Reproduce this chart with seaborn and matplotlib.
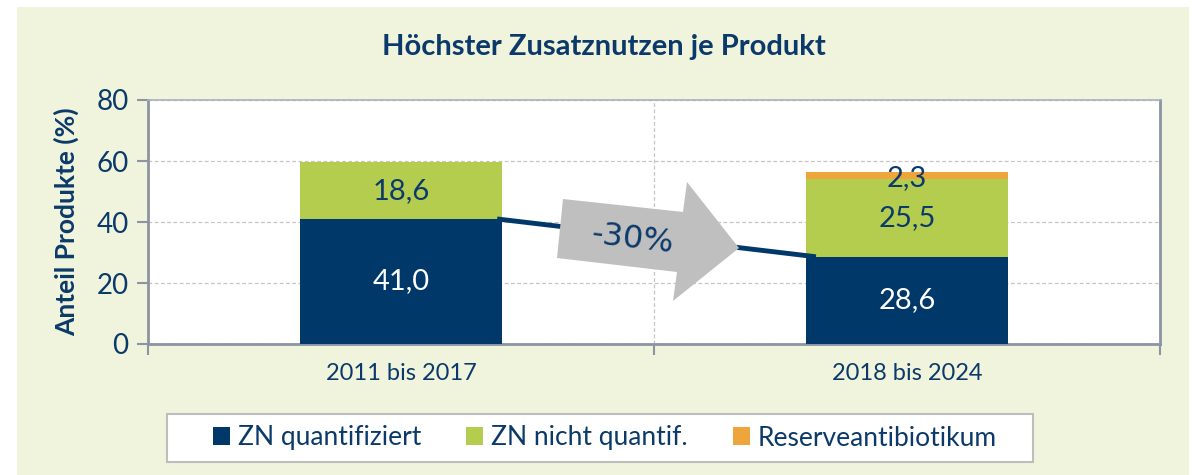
import matplotlib
matplotlib.use("Agg")
import matplotlib.pyplot as plt
import seaborn as sns
import pandas as pd
from matplotlib.patches import Rectangle, Polygon

# data
periods = ["2011 bis 2017", "2018 bis 2024"]
zn_quant = [41.0, 28.6]
zn_nicht = [18.6, 25.5]
reserve = [0.0, 2.3]
series_names = ["ZN quantifiziert", "ZN nicht quantif.", "Reserveantibiotikum"]
change_label = "-30%"

NAVY = "#00386a"
GREEN = "#b4cd4f"
ORANGE = "#eea53b"
BG = "#f0f4dc"
AXIS = "#8a94a3"
TEXT = "#0b3a6a"

sns.set_theme(style="white")
plt.rcParams["font.family"] = ["Lato", "DejaVu Sans"]

df = pd.DataFrame({"Zeitraum": periods, "quant": zn_quant,
                   "nicht": zn_nicht, "reserve": reserve})
df["b2"] = df["quant"] + df["nicht"]

W, H = 1201, 475
fig = plt.figure(figsize=(W / 100, H / 100), dpi=100)
fig.patch.set_facecolor("white")
fig.patches.append(Rectangle((17 / W, 0), (1189 - 17) / W, 1 - 7 / H,
                             transform=fig.transFigure, facecolor=BG,
                             edgecolor="none", zorder=-10))

ax = fig.add_axes([148 / W, 1 - 344 / H, (1160 - 148) / W, (344 - 100) / H])
ax.set_facecolor("white")

bw = 0.4
sns.barplot(data=df, x="Zeitraum", y="quant", color=NAVY, width=bw,
            saturation=1, ax=ax, zorder=3, label=series_names[0],
            linewidth=0)
sns.barplot(data=df, x="Zeitraum", y="nicht", color=GREEN, width=bw,
            saturation=1, ax=ax, bottom=df["quant"], zorder=3,
            label=series_names[1], linewidth=0)
sns.barplot(data=df, x="Zeitraum", y="reserve", color=ORANGE, width=bw,
            saturation=1, ax=ax, bottom=df["b2"], zorder=3,
            label=series_names[2], linewidth=0)

# value labels
for i in range(len(periods)):
    ax.text(i, zn_quant[i] / 2, f"{zn_quant[i]:.1f}".replace(".", ","),
            ha="center", va="center", color="white", fontsize=21, zorder=6)
    ax.text(i, zn_quant[i] + zn_nicht[i] / 2,
            f"{zn_nicht[i]:.1f}".replace(".", ","),
            ha="center", va="center", color=TEXT, fontsize=21, zorder=6)
    if reserve[i] > 0:
        ax.text(i, zn_quant[i] + zn_nicht[i] + reserve[i] / 2 - 1.0,
                f"{reserve[i]:.1f}".replace(".", ","),
                ha="center", va="center", color=TEXT, fontsize=21, zorder=6)

# connecting line between the blue tops
ax.plot([bw / 2 - 0.01, 1 - bw / 2 + 0.02], [zn_quant[0], zn_quant[1]],
        color=NAVY, lw=3.5, zorder=4, solid_capstyle="butt")

# axes styling
ax.set_xlim(-0.5, 1.5)
ax.set_ylim(0, 80)
ax.set_yticks([0, 20, 40, 60, 80])
ax.set_xlabel("")
ax.set_ylabel("Anteil Produkte (%)", fontsize=19, fontweight="bold",
              color=TEXT, labelpad=12)
ax.set_xticks([-0.5, 0.5, 1.5], minor=True)
ax.tick_params(axis="x", which="major", length=0, pad=14, labelsize=17,
               labelcolor=TEXT)
ax.tick_params(axis="x", which="minor", length=8, width=1.5, color=AXIS,
               direction="out", bottom=True)
ax.tick_params(axis="y", length=8, width=1.5, color=AXIS, direction="out",
               left=True, pad=6, labelsize=20, labelcolor=TEXT)
ax.grid(False)
ax.grid(axis="y", which="major", color="#c8c4c0", ls=(0, (3, 2)), lw=0.9,
        zorder=0)
ax.grid(axis="x", which="minor", color="#c8c4c0", ls=(0, (3, 2)), lw=0.9,
        zorder=0)
for side in ["left", "bottom", "right"]:
    ax.spines[side].set_color(AXIS)
    ax.spines[side].set_linewidth(2)
ax.spines["top"].set_color("#a8b0bc")
ax.spines["top"].set_linewidth(1.2)
if ax.get_legend():
    ax.get_legend().remove()

# grey arrow with the change label
pts = [(563, 199), (683, 212), (687, 182), (739, 248), (673, 301),
       (677, 272), (557, 258)]
arrow = Polygon([(x / W, 1 - y / H) for x, y in pts], closed=True,
                transform=fig.transFigure, facecolor="#bfbfbf",
                edgecolor="none", zorder=5)
fig.patches.append(arrow)
fig.text(633 / W, 1 - 239 / H, change_label, ha="center", va="center",
         rotation=-6.6, fontsize=23, color=TEXT, family="DejaVu Sans",
         zorder=7)

fig.text(604 / W, 1 - 47 / H, "Höchster Zusatznutzen je Produkt",
         ha="center", va="center", fontsize=21, fontweight="bold", color=TEXT)

# legend box drawn separately, entries without frame
fig.patches.append(Rectangle((167 / W, 1 - 462 / H), (1033 - 167) / W,
                             (462 - 414) / H, transform=fig.transFigure,
                             facecolor="white", edgecolor="#bdbdbd",
                             linewidth=1.5, zorder=1))
handles, labels = ax.get_legend_handles_labels()
leg = fig.legend(handles, labels, loc="center", ncol=3,
                 bbox_to_anchor=(605 / W, 1 - 438 / H), frameon=False,
                 fontsize=19, handlelength=0.65, handleheight=0.65,
                 handletextpad=0.3, columnspacing=1.7, borderpad=0.3,
                 borderaxespad=0, labelcolor=TEXT)
leg.set_zorder(3)

fig.savefig("out.png", dpi=100, facecolor=fig.get_facecolor())
